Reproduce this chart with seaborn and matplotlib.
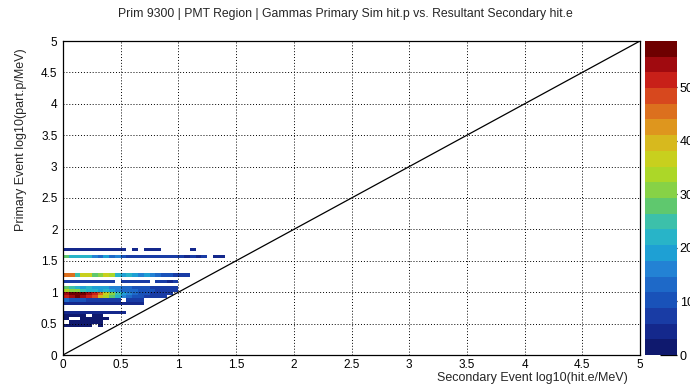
import numpy as np
import pandas as pd
import matplotlib
matplotlib.use("Agg")
import matplotlib.pyplot as plt
from matplotlib.colors import ListedColormap
from matplotlib.ticker import MultipleLocator, FormatStrFormatter
import seaborn as sns

# ---------------- data ----------------
TITLE = "Prim 9300 | PMT Region | Gammas Primary Sim hit.p vs. Resultant Secondary hit.e"
XLABEL = "Secondary Event log10(hit.e/MeV)"
YLABEL = "Primary Event log10(part.p/MeV)"

BIN_W = 0.05          # bin width in log10 units (x and y)
Z_MAX = 58.6          # top of the colour scale
CBAR_TICKS = [0, 10, 20, 30, 40, 50]

# counts per x-bin (starting at x = 0) for each y-bin (keyed by lower edge)
row_165 = [5, 4, 4, 5, 4, 4, 5, 4, 4, 5, 4, 0, 3, 0, 3, 3, 3, 0, 0, 0, 0, 0, 3]
row_155 = [27, 22, 23, 21, 22, 17, 14, 18, 13, 15, 9, 8, 7, 8, 7, 6, 7, 6, 6, 7,
           6, 5, 6, 5, 6, 0, 4, 4]
row_125 = [46, 44, 24, 37, 36, 29, 31, 37, 35, 22, 20, 21, 18, 17, 19, 15, 14, 10,
           9, 8, 7, 6]
row_115 = [7, 6, 6, 7, 6, 6, 7, 6, 6, 0, 6, 6, 7, 6, 6, 0, 6, 6, 5, 6]
row_105 = [29, 25, 22, 20, 21, 19, 18, 20, 16, 15, 13, 12, 10, 11, 9, 8, 8, 7, 7, 6]
row_100 = [33, 31, 30, 24, 22, 21, 20, 21, 19, 17, 14, 13, 12, 11, 10, 9, 8, 8, 7, 6]
row_095 = [54, 57, 57, 56, 55, 50, 44, 37, 30, 25, 20, 15, 12, 10, 9, 8, 7, 7, 6]
row_090 = [50, 55, 56, 53, 52, 47, 40, 33, 27, 22, 16, 13, 10, 9, 8, 7, 6, 6]
row_085 = [12, 10, 9, 9, 8, 7, 8, 7, 8, 7, 0, 7, 6, 6]
row_080 = [4, 4, 5, 4, 4, 4, 3, 4, 4, 3, 3, 3, 3, 3]
row_065 = [4, 4, 4, 4, 4, 4, 4, 4, 4, 4, 3]
row_060 = [2, 2, 2, 2, 0, 2, 2]
row_055 = [2, 0, 0, 2, 2, 2, 2, 2]
row_050 = [0, 2, 2, 2, 2, 2, 2]
row_045 = [2, 2, 2, 2, 2, 0, 2]

ROWS = {
    1.65: row_165, 1.55: row_155, 1.25: row_125, 1.15: row_115,
    1.05: row_105, 1.00: row_100, 0.95: row_095, 0.90: row_090,
    0.85: row_085, 0.80: row_080, 0.65: row_065, 0.60: row_060,
    0.55: row_055, 0.50: row_050, 0.45: row_045,
}

recs = []
for ylow, counts in ROWS.items():
    for i, c in enumerate(counts):
        if c > 0:
            recs.append({"x": (i + 0.5) * BIN_W, "y": ylow + BIN_W / 2, "w": c})
df = pd.DataFrame(recs)

# ROOT-like rainbow palette, 20 contour levels
PALETTE = [
    (15, 25, 110), (20, 40, 140), (25, 60, 165), (25, 82, 185), (30, 105, 200),
    (35, 130, 212), (30, 160, 212), (40, 180, 200), (60, 192, 170), (95, 200, 110),
    (135, 210, 70), (172, 215, 40), (200, 208, 30), (215, 185, 30), (222, 150, 30),
    (220, 112, 30), (215, 72, 30), (200, 32, 25), (160, 10, 15), (110, 0, 0),
]
cmap = ListedColormap([tuple(v / 255 for v in c) for c in PALETTE])

# ---------------- figure ----------------
sns.set_theme(style="white")
plt.rcParams["font.family"] = ["Liberation Sans", "DejaVu Sans"]
plt.rcParams["axes.linewidth"] = 0.9

W, H = 690, 384
fig = plt.figure(figsize=(W / 100, H / 100), dpi=100)
ax = fig.add_axes([63 / W, 1 - 355 / H, (640 - 63) / W, (355 - 41) / H])
cax = fig.add_axes([645 / W, 1 - 355 / H, (677 - 645) / W, (355 - 41) / H])

sns.histplot(
    data=df, x="x", y="y", weights="w",
    bins=100, binrange=((0, 5), (0, 5)),
    cmap=cmap, vmin=0, vmax=Z_MAX,
    cbar=True, cbar_ax=cax, cbar_kws={"ticks": CBAR_TICKS},
    ax=ax,
)

ax.set_xlim(0, 5)
ax.set_ylim(0, 5)
ax.plot([0, 5], [0, 5], color="black", lw=0.9, zorder=4)

for s in ax.spines.values():
    s.set_visible(True)
    s.set_color("black")
    s.set_linewidth(0.9)

ax.xaxis.set_major_locator(MultipleLocator(0.5))
ax.yaxis.set_major_locator(MultipleLocator(0.5))
ax.xaxis.set_minor_locator(MultipleLocator(0.1))
ax.yaxis.set_minor_locator(MultipleLocator(0.1))
fmt = FormatStrFormatter("%g")
ax.xaxis.set_major_formatter(fmt)
ax.yaxis.set_major_formatter(fmt)
ax.tick_params(which="both", direction="in", top=False, right=False,
               color="black", width=0.8, labelsize=8.5, labelcolor="black")
ax.tick_params(axis="x", which="major", length=6.8, pad=3)
ax.tick_params(axis="x", which="minor", length=3.4)
ax.tick_params(axis="y", which="major", length=12, pad=4)
ax.tick_params(axis="y", which="minor", length=6)

ax.grid(True, which="major", color="black", linestyle=(0, (1, 2)), linewidth=0.7)
ax.set_axisbelow(False)

ax.set_xlabel("")
ax.set_ylabel("")
fig.text(628 / W, 1 - 377.5 / H, XLABEL, ha="right", va="center", fontsize=9)
fig.text(21 / W, 1 - 48 / H, YLABEL, ha="center", va="top", rotation=90, fontsize=9)
fig.text(0.5, 1 - 14 / H, TITLE, ha="center", va="center", fontsize=8.8)

# colour bar styling
cax.tick_params(which="both", direction="in", length=12, width=0.9, color="black",
                labelsize=9, pad=2, right=True, left=False, labelcolor="black")
cax.minorticks_off()
cax.set_ylim(0, Z_MAX)
for s in cax.spines.values():
    s.set_visible(False)
try:
    cax.collections[0].colorbar.outline.set_visible(False)
except Exception:
    pass

fig.savefig("out.png", dpi=100)
